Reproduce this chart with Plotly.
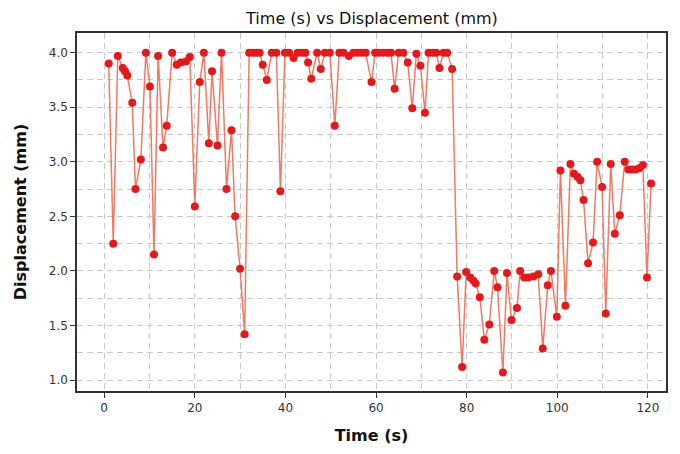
import plotly.graph_objects as go

time_s = [1.0, 2.0, 3.0, 4.1, 4.6, 5.1, 6.2, 6.9, 8.1, 9.2, 10.1, 11.0, 11.9, 13.0, 13.8,
          15.0, 16.0, 16.9, 18.0, 18.9, 20.0, 21.1, 22.0, 23.1, 23.8, 25.0, 25.9, 27.0,
          28.1, 28.9, 30.0, 31.0, 32.0, 32.8, 33.6, 34.3, 35.0, 35.9, 37.0, 38.0, 38.9,
          39.9, 40.8, 41.8, 42.7, 43.6, 44.4, 45.0, 45.7, 47.0, 47.8, 48.7, 49.8, 50.9,
          51.9, 52.8, 54.0, 55.0, 55.9, 56.8, 57.7, 59.0, 59.8, 60.7, 61.6, 62.5, 63.3,
          64.1, 65.0, 66.0, 67.0, 68.0, 68.9, 69.8, 70.8, 71.6, 72.5, 73.3, 74.0, 74.9,
          75.7, 76.8, 77.9, 79.0, 79.9, 80.8, 81.5, 82.0, 82.9, 83.9, 85.0, 86.1, 86.8,
          88.0, 88.9, 89.9, 91.1, 91.8, 92.7, 93.6, 94.7, 95.8, 96.8, 97.9, 98.6, 99.9,
          100.7, 101.8, 102.9, 103.7, 104.5, 105.1, 105.8, 106.8, 107.9, 108.8, 109.9,
          110.7, 111.8, 112.7, 113.8, 114.9, 115.7, 116.5, 117.3, 118.1, 118.9, 119.8, 120.7]

displacement_mm = [3.90, 2.25, 3.97, 3.86, 3.83, 3.79, 3.54, 2.75, 3.02, 4.00, 3.69, 2.15, 3.97,
                   3.13, 3.33, 4.00, 3.89, 3.91, 3.92, 3.96, 2.59, 3.73, 4.00, 3.17, 3.83, 3.15,
                   4.00, 2.75, 3.29, 2.50, 2.02, 1.42, 4.00, 4.00, 4.00, 4.00, 3.89, 3.75, 4.00,
                   4.00, 2.73, 4.00, 4.00, 3.95, 4.00, 4.00, 4.00, 3.91, 3.76, 4.00, 3.85, 4.00,
                   4.00, 3.33, 4.00, 4.00, 3.97, 4.00, 4.00, 4.00, 4.00, 3.73, 4.00, 4.00, 4.00,
                   4.00, 4.00, 3.67, 4.00, 4.00, 3.91, 3.49, 3.99, 3.88, 3.45, 4.00, 4.00, 4.00,
                   3.86, 4.00, 4.00, 3.85, 1.95, 1.12, 1.99, 1.94, 1.91, 1.885, 1.76, 1.37, 1.51,
                   2.00, 1.85, 1.07, 1.98, 1.55, 1.66, 2.00, 1.94, 1.94, 1.95, 1.97, 1.29, 1.87,
                   2.00, 1.58, 2.92, 1.68, 2.98, 2.89, 2.86, 2.83, 2.65, 2.07, 2.26, 3.00, 2.77,
                   1.61, 2.98, 2.34, 2.51, 3.00, 2.93, 2.93, 2.93, 2.94, 2.97, 1.94, 2.80]

x_ticks = [0, 20, 40, 60, 80, 100, 120]
y_ticks = [1.0, 1.5, 2.0, 2.5, 3.0, 3.5, 4.0]

fig = go.Figure()
fig.add_trace(go.Scatter(
    x=time_s, y=displacement_mm, mode="lines+markers",
    line=dict(color="#f07a64", width=1.5),
    marker=dict(color="#e3191c", size=8),
    showlegend=False,
))

grid = dict(showgrid=True, gridcolor="#c8c8c8", griddash="6px,4px", gridwidth=1)
fig.update_layout(
    width=680, height=454,
    margin=dict(l=77, r=12, t=33, b=60),
    paper_bgcolor="white", plot_bgcolor="white",
    font=dict(family="DejaVu Sans", color="#222"),
    title=dict(text="Time (s) vs Displacement (mm)", x=0.547, xanchor="center",
               y=0.972, yanchor="top", font=dict(size=16, color="#111")),
)
fig.update_xaxes(
    range=[-6, 124], tickvals=x_ticks, ticks="outside", ticklen=5, tickcolor="#333",
    tickfont=dict(size=12, color="#333"),
    showline=True, linecolor="#333", linewidth=1.5, mirror=True,
    minor=dict(dtick=10, tick0=0, **grid), zeroline=False, **grid,
    title=dict(text="<b>Time (s)</b>", font=dict(size=16, color="#111"), standoff=16),
)
fig.update_yaxes(
    range=[0.9, 4.18], tickvals=y_ticks, tickformat=".1f", ticks="outside", ticklen=5,
    tickcolor="#333", tickfont=dict(size=12, color="#333"),
    showline=True, linecolor="#333", linewidth=1.5, mirror=True,
    minor=dict(dtick=0.25, tick0=0, **grid), zeroline=False, **grid,
    title=dict(text="<b>Displacement (mm)</b>", font=dict(size=16, color="#111"), standoff=18),
)

fig.write_html("out.html")
